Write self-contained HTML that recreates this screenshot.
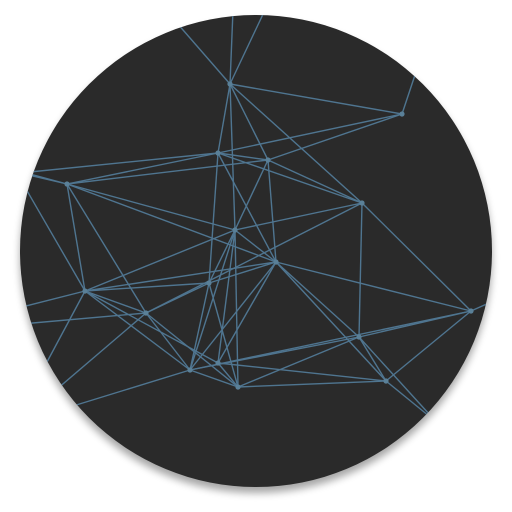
<!DOCTYPE html>
<html><head><meta charset="utf-8"><style>
html,body{margin:0;padding:0;background:#fff;width:512px;height:512px;overflow:hidden}
svg{display:block}
</style></head><body>
<svg width="512" height="512" viewBox="0 0 512 512">
<defs>
<filter id="sh" x="-20%" y="-20%" width="140%" height="140%"><feGaussianBlur stdDeviation="4"/></filter>
<clipPath id="cp"><circle cx="256" cy="251" r="236"/></clipPath>
</defs>
<circle cx="256" cy="257" r="236" fill="#000" opacity="0.35" filter="url(#sh)"/>
<circle cx="256" cy="251" r="236" fill="#2a2a2a"/>
<g id="net" clip-path="url(#cp)"></g>
</svg>
<script>
const nodeNames=['A','B','C','D','E','F','G','H','I','J','K','L','M','N','O','P','Q','t1','t2','t3','tr','l1','l2','l3','l4','r1','bl1','bl2','bl3','br1','br2'];
const nodeX=[230,402,218,268,67,362,235,276,209,85,146,471,359,190,218,238,386,233,265,170,420,20,15,10,10,500,40,50,60,440,430];
const nodeY=[84,114,153,160,184,203,230,262,283,291,313,311,337,370,363,387,381,10,10,15,60,173,170,310,325,298,375,395,410,425,415];
const edges=[['A','t1'],['A','t2'],['A','t3'],['A','B'],['A','C'],['A','G'],['A','D'],['A','F'],
['B','C'],['B','D'],['B','tr'],['C','l1'],['C','E'],['C','D'],['C','I'],['C','H'],['C','F'],
['D','G'],['D','H'],['D','F'],['D','E'],['E','G'],['E','J'],['E','K'],['E','H'],['E','l2'],['E','l1'],
['F','G'],['F','M'],['F','L'],['F','K'],['G','H'],['G','I'],['G','N'],['G','O'],['G','P'],['G','J'],
['H','J'],['H','I'],['H','M'],['H','N'],['H','Q'],['H','L'],['H','O'],['I','J'],['I','P'],['I','N'],['I','K'],
['J','K'],['J','N'],['J','O'],['J','l3'],['J','bl1'],['J','l2'],['K','N'],['K','l4'],['K','bl2'],['K','P'],
['L','M'],['L','Q'],['L','N'],['L','r1'],['M','N'],['M','P'],['M','Q'],['M','br2'],['N','P'],['N','bl3'],['P','Q'],['O','P'],['O','Q'],['Q','br1']];
const g=document.getElementById('net');
const idx=n=>nodeNames.indexOf(n);
const NS='http://www.w3.org/2000/svg';
edges.forEach(function(e,i){
  const a=idx(e[0]),b=idx(e[1]);
  const l=document.createElementNS(NS,'line');
  l.setAttribute('x1',nodeX[a]);l.setAttribute('y1',nodeY[a]);
  l.setAttribute('x2',nodeX[b]);l.setAttribute('y2',nodeY[b]);
  l.setAttribute('stroke','#4f7590');l.setAttribute('stroke-width','1.4');
  
  
  g.appendChild(l);
});
nodeNames.forEach(function(n,i){
  if(n.length>1)return;
  const c=document.createElementNS(NS,'circle');
  c.setAttribute('cx',nodeX[i]);c.setAttribute('cy',nodeY[i]);c.setAttribute('r','2.6');
  c.setAttribute('fill','#5a8098');
  
  
  g.appendChild(c);
});
</script>
</body></html>
